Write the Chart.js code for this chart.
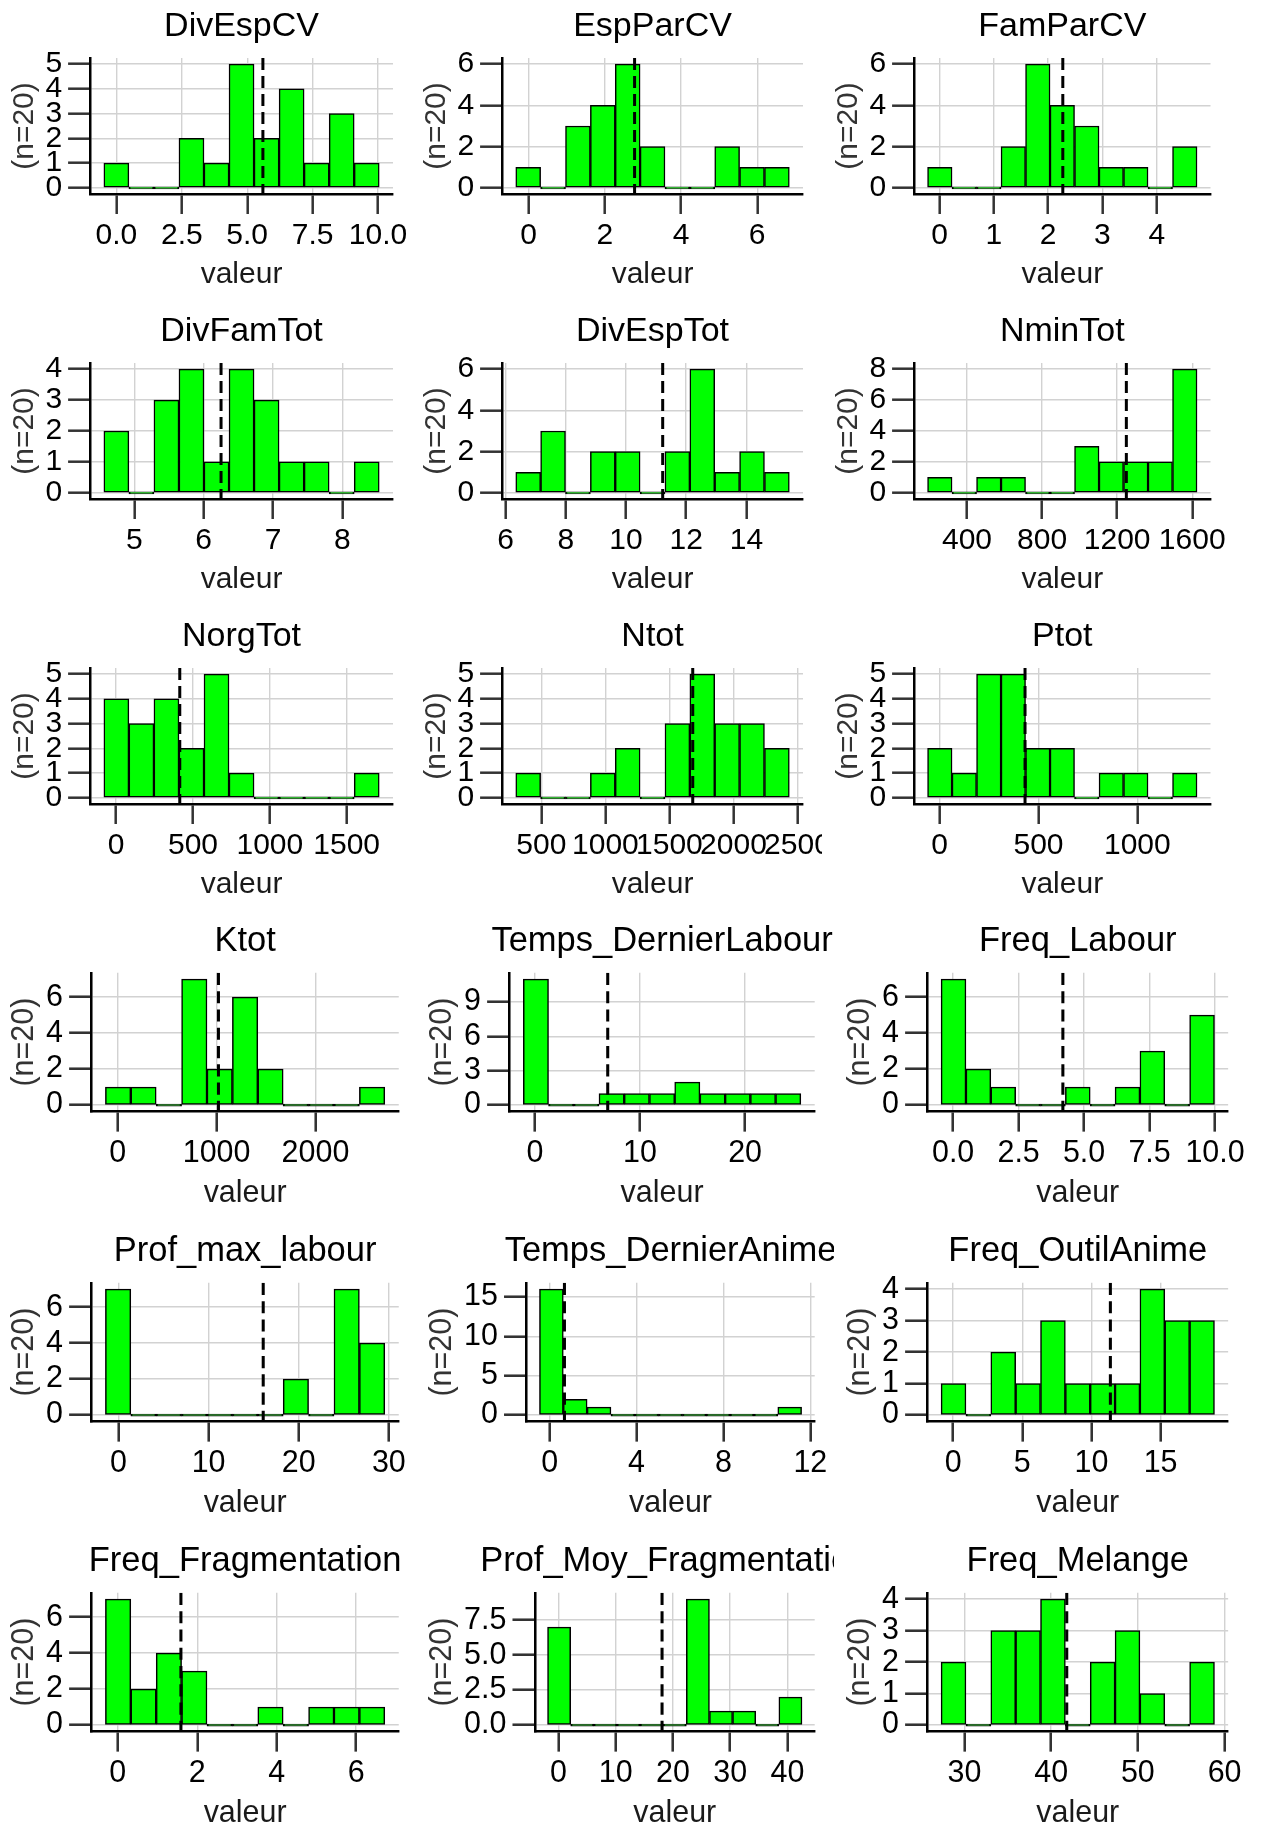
<!DOCTYPE html>
<html><head><meta charset="utf-8">
<script src="https://cdn.jsdelivr.net/npm/chart.js@4.4.1/dist/chart.umd.min.js"></script>
<style>
html,body{margin:0;padding:0;background:#fff;overflow:hidden;width:1264px;height:1825px;}
#root{position:relative;width:1264px;height:1825px;overflow:hidden;background:#fff;}
.cell{position:absolute;overflow:hidden;}
canvas{display:block;}
</style></head>
<body><div id="root"></div>
<script>
// ---------- DATA ----------
const titles = ["DivEspCV","EspParCV","FamParCV","DivFamTot","DivEspTot","NminTot",
  "NorgTot","Ntot","Ptot","Ktot","Temps_DernierLabour","Freq_Labour",
  "Prof_max_labour","Temps_DernierAnime","Freq_OutilAnime","Freq_Fragmentation",
  "Prof_Moy_Fragmentation","Freq_Melange"];

// first bin lower edge and bin width for each histogram
const binStarts = [-0.48, -0.34, -0.22, 4.56, 6.34, 190, -80, 300, -61, -124, -1.1, -0.46, -1.45, -0.47, -0.87, -0.31, -1.9, 27.31];
const binWidths = [0.957, 0.653, 0.451, 0.361, 0.826, 130.5, 162.9, 194.2, 123.9, 256.8, 2.4, 0.949, 2.818, 1.097, 1.797, 0.639, 4.04, 2.866];

// counts per bin
const DivEspCV_counts = [1,0,0,2,1,5,2,4,1,3,1];
const EspParCV_counts = [1,0,3,4,6,2,0,0,2,1,1];
const FamParCV_counts = [1,0,0,2,6,4,3,1,1,0,2];
const DivFamTot_counts = [2,0,3,4,1,4,3,1,1,0,1];
const DivEspTot_counts = [1,3,0,2,2,0,2,6,1,2,1];
const NminTot_counts = [1,0,1,1,0,0,3,2,2,2,8];
const NorgTot_counts = [4,3,4,2,5,1,0,0,0,0,1];
const Ntot_counts = [1,0,0,1,2,0,3,5,3,3,2];
const Ptot_counts = [2,1,5,5,2,2,0,1,1,0,1];
const Ktot_counts = [1,1,0,7,2,6,2,0,0,0,1];
const TempsDernierLabour_counts = [11,0,0,1,1,1,2,1,1,1,1];
const FreqLabour_counts = [7,2,1,0,0,1,0,1,3,0,5];
const ProfMaxLabour_counts = [7,0,0,0,0,0,0,2,0,7,4];
const TempsDernierAnime_counts = [16,2,1,0,0,0,0,0,0,0,1];
const FreqOutilAnime_counts = [1,0,2,1,3,1,1,1,4,3,3];
const FreqFragmentation_counts = [7,2,4,3,0,0,1,0,1,1,1];
const ProfMoyFragmentation_counts = [7,0,0,0,0,0,9,1,1,0,2];
const FreqMelange_counts = [2,0,3,3,4,0,2,3,1,0,2];

// mean (dashed line)
const means = [5.60, 2.78, 2.27, 6.25, 11.22, 1249, 414, 1682, 432, 1019, 6.93, 4.19, 16.06, 0.68, 11.37, 1.59, 18.1, 41.8];

// tick labels
const xt_DivEspCV = ["0.0","2.5","5.0","7.5","10.0"];
const xt_EspParCV = ["0","2","4","6"];
const xt_FamParCV = ["0","1","2","3","4"];
const xt_DivFamTot = ["5","6","7","8"];
const xt_DivEspTot = ["6","8","10","12","14"];
const xt_NminTot = ["400","800","1200","1600"];
const xt_NorgTot = ["0","500","1000","1500"];
const xt_Ntot = ["500","1000","1500","2000","2500"];
const xt_Ptot = ["0","500","1000"];
const xt_Ktot = ["0","1000","2000"];
const xt_TempsDernierLabour = ["0","10","20"];
const xt_FreqLabour = ["0.0","2.5","5.0","7.5","10.0"];
const xt_ProfMaxLabour = ["0","10","20","30"];
const xt_TempsDernierAnime = ["0","4","8","12"];
const xt_FreqOutilAnime = ["0","5","10","15"];
const xt_FreqFragmentation = ["0","2","4","6"];
const xt_ProfMoyFragmentation = ["0","10","20","30","40"];
const xt_FreqMelange = ["30","40","50","60"];

const yt_0to5 = ["0","1","2","3","4","5"];
const yt_0to4 = ["0","1","2","3","4"];
const yt_even6 = ["0","2","4","6"];
const yt_even8 = ["0","2","4","6","8"];
const yt_by3 = ["0","3","6","9"];
const yt_by5 = ["0","5","10","15"];
const yt_by25 = ["0.0","2.5","5.0","7.5"];

const allCounts = [DivEspCV_counts, EspParCV_counts, FamParCV_counts, DivFamTot_counts, DivEspTot_counts, NminTot_counts,
  NorgTot_counts, Ntot_counts, Ptot_counts, Ktot_counts, TempsDernierLabour_counts, FreqLabour_counts,
  ProfMaxLabour_counts, TempsDernierAnime_counts, FreqOutilAnime_counts, FreqFragmentation_counts,
  ProfMoyFragmentation_counts, FreqMelange_counts];
const allXTicks = [xt_DivEspCV, xt_EspParCV, xt_FamParCV, xt_DivFamTot, xt_DivEspTot, xt_NminTot,
  xt_NorgTot, xt_Ntot, xt_Ptot, xt_Ktot, xt_TempsDernierLabour, xt_FreqLabour,
  xt_ProfMaxLabour, xt_TempsDernierAnime, xt_FreqOutilAnime, xt_FreqFragmentation,
  xt_ProfMoyFragmentation, xt_FreqMelange];
const allYTicks = [yt_0to5, yt_even6, yt_even6, yt_0to4, yt_even6, yt_even8,
  yt_0to5, yt_0to5, yt_0to5, yt_even6, yt_by3, yt_even6,
  yt_even6, yt_by5, yt_0to4, yt_even6, yt_by25, yt_0to4];

// ---------- LAYOUT / STYLE ----------
const FONT = "'Liberation Sans', Arial, Helvetica, sans-serif";
Chart.defaults.font.family = FONT;
const colLeft = [0, 412, 824];
const padRight = [17, 19, 23.5];
const topRows = [0, 305, 610];
const botRows = [914, 1224, 1534];

const titlePlugin = {
  id: 'panelTitle',
  afterDraw(chart, args, opts) {
    const {ctx, chartArea} = chart;
    ctx.save();
    ctx.font = opts.size + 'px ' + FONT;
    ctx.fillStyle = '#000';
    ctx.textAlign = 'center';
    ctx.textBaseline = 'middle';
    ctx.fillText(opts.text, (chartArea.left + chartArea.right) / 2, opts.y);
    ctx.restore();
  }
};

const root = document.getElementById('root');

function makePanel(i) {
  const row = Math.floor(i / 3), col = i % 3;
  const S = row < 3 ? 1 : 1.015;
  const top = row < 3 ? topRows[row] : botRows[row - 3];
  const left = Math.round(colLeft[col] * S);
  const W = Math.round(410 * S), H = Math.round(305 * S);
  const div = document.createElement('div');
  div.className = 'cell';
  div.style.left = left + 'px'; div.style.top = top + 'px';
  div.style.width = W + 'px'; div.style.height = H + 'px';
  const cv = document.createElement('canvas');
  cv.width = W; cv.height = H;
  cv.style.width = W + 'px'; cv.style.height = H + 'px';
  div.appendChild(cv); root.appendChild(div);

  const counts = allCounts[i];
  const n = counts.length, w = binWidths[i], s0 = binStarts[i];
  const R = n * w;
  const xmin = s0 - 0.05 * R, xmax = s0 + R + 0.05 * R;
  const cmax = Math.max(...counts);
  const ymin = -0.05 * cmax, ymax = 1.05 * cmax;
  const xl = allXTicks[i], yl = allYTicks[i];

  new Chart(cv, {
    type: 'bar',
    data: {
      datasets: [
        {
          type: 'line',
          data: [{x: means[i], y: ymax}, {x: means[i], y: ymin}],
          borderColor: '#000', borderWidth: 3 * S, borderDash: [12 * S, 6 * S],
          pointRadius: 0, fill: false, order: 0
        },
        {
          type: 'bar',
          data: counts.map((c, k) => ({x: s0 + w * (k + 0.5), y: c})),
          backgroundColor: '#00ff00', borderColor: '#000', borderWidth: 1.5 * S,
          borderSkipped: false, barPercentage: 1, categoryPercentage: 1,
          minBarLength: 2 * S, order: 1
        }
      ]
    },
    options: {
      responsive: false, animation: false, events: [],
      layout: {padding: {top: 58 * S, left: 1.4 * S, right: padRight[col] * S, bottom: 11 * S}},
      plugins: {
        legend: {display: false}, tooltip: {enabled: false},
        panelTitle: {text: titles[i], size: 34 * S, y: 27 * S}
      },
      scales: {
        x: {
          type: 'linear', min: xmin, max: xmax, offset: false,
          grid: {color: '#d2d2d2', lineWidth: 1.4 * S, tickColor: '#333', tickWidth: 2.5 * S,
                 tickLength: 20 * S, offset: false, drawTicks: true},
          border: {display: true, color: '#000', width: 2.5 * S},
          ticks: {autoSkip: false, maxRotation: 0, minRotation: 0, padding: 4 * S, color: '#000',
                  font: {size: 30 * S}, callback: (v, k) => xl[k]},
          afterBuildTicks: sc => { sc.ticks = xl.map(t => ({value: parseFloat(t)})); },
          afterFit: sc => { sc.paddingLeft = 0; sc.paddingRight = 0; },
          title: {display: true, text: 'valeur', color: '#1a1a1a', font: {size: 30 * S, lineHeight: 1.0},
                  padding: {top: 2 * S, bottom: 4 * S}}
        },
        y: {
          type: 'linear', min: ymin, max: ymax,
          grid: {color: '#d2d2d2', lineWidth: 1.4 * S, tickColor: '#333', tickWidth: 2.5 * S,
                 tickLength: 22 * S, drawTicks: true},
          border: {display: true, color: '#000', width: 2.5 * S},
          ticks: {autoSkip: false, padding: 6 * S, color: '#000', font: {size: 30 * S},
                  callback: (v, k) => yl[k]},
          afterBuildTicks: sc => { sc.ticks = yl.map(t => ({value: parseFloat(t)})); },
          afterFit: sc => { sc.paddingTop = 0; sc.paddingBottom = 0; },
          title: {display: true, text: '(n=20)', color: '#333', font: {size: 30 * S, lineHeight: 1.0},
                  padding: {top: 8 * S, bottom: 0}}
        }
      }
    },
    plugins: [titlePlugin]
  });
}

for (let i = 0; i < titles.length; i++) makePanel(i);
</script>
</body></html>
